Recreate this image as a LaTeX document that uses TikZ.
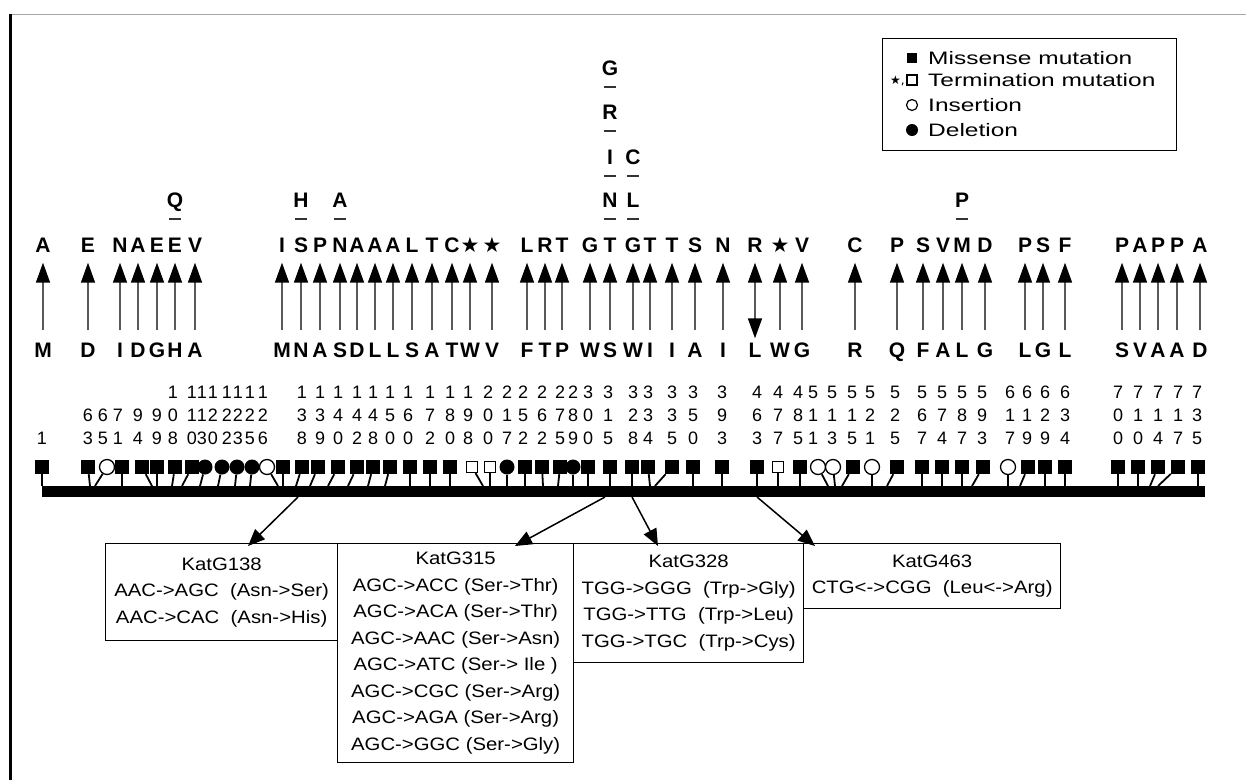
\documentclass[tikz,border=0pt]{standalone}
\usepackage{fontspec}
\setmainfont{Liberation Sans}
\newfontfamily\symfont{DejaVu Sans}
\newfontfamily\boxfont[FakeStretch=1.13]{Liberation Sans}
\newfontfamily\lgfont[FakeStretch=1.36]{Liberation Sans}
\usetikzlibrary{arrows.meta,positioning,shapes.geometric}
\newcommand{\stsym}{{\symfont\fontsize{21}{21}\selectfont ★}}

\tikzset{
  aalet/.style={inner sep=0pt, text height=15pt, text depth=0pt, font=\fontsize{21}{21}\bfseries\selectfont},
  numtxt/.style={inner sep=0pt, text height=13pt, text depth=0pt, font=\fontsize{18}{18}\selectfont},
  uparr/.style={draw=black!65, line width=1.6pt, -{Triangle[width=14pt,length=20pt,color=black]}, shorten >=10pt, shorten <=12pt},
  duparr/.style={draw=black!65, line width=1.6pt, {Triangle[width=14pt,length=20pt,color=black]}-{Triangle[width=14pt,length=20pt,color=black]}, shorten >=10pt, shorten <=4pt},
  ulbar/.style={line width=2pt, black!80},
  msq/.style={fill=black, minimum size=14pt, inner sep=0pt},
  tsq/.style={draw=black, line width=1.3pt, fill=white, minimum size=11pt, inner sep=0pt},
  ins/.style={circle, draw=black, line width=1.3pt, fill=white, minimum size=15pt, inner sep=0pt},
  del/.style={circle, fill=black, minimum size=15pt, inner sep=0pt},
  stem/.style={line width=1.8pt},
  katbox/.style={draw, line width=1.3pt, inner sep=0pt, align=center, anchor=north west, font=\boxfont\fontsize{18}{26.5}\selectfont},
  lgtext/.style={anchor=west, inner sep=0pt, font=\lgfont\fontsize{18}{18}\selectfont},
  boxarr/.style={line width=1.5pt, -{Triangle[width=14pt,length=17pt]}}
}

\begin{document}
\begin{tikzpicture}[x=1pt, y=-1pt]
  \useasboundingbox (0,0) rectangle (1246,780);
  % frame
  \draw[black!35, line width=0.8pt] (10,14) -- (1246,14);
  \draw[line width=3pt] (10,14) -- (10,780);

  % legend
  \node[draw, line width=1.2pt, minimum width=294pt, minimum height=112pt, inner sep=0pt, anchor=north west] (legend) at (882,38) {};
  \node[msq, minimum size=10pt] (lg1) at (912,58) {};
  \node[lgtext] (lt1) at (928,58) {Missense mutation};
  \node[inner sep=0pt, anchor=east] (lgs) at (905,81) {\symfont\fontsize{12}{12}\selectfont ★,};
  \node[tsq, minimum size=10pt, line width=1.2pt] (lg2) at (912,80) {};
  \node[lgtext] (lt2) at (928,80) {Termination mutation};
  \node[ins, minimum size=11pt, line width=1.2pt] (lg3) at (912,105) {};
  \node[lgtext] (lt3) at (928,105) {Insertion};
  \node[del, minimum size=12pt] (lg4) at (912,130) {};
  \node[lgtext] (lt4) at (928,130) {Deletion};

  % alternative substitutions stacked above a column
  \foreach \x/\y/\l [count=\i] in {610/68/G, 610/112/R, 610/157/I, 633/157/C, 610/200/N, 633/200/L,
      175/200/Q, 301/200/H, 340/200/A, 962/200/P} {
    \node[aalet] (a\i) at (\x,\y) {\l};
    \draw[ulbar] ([xshift=-6pt,yshift=-11pt]a\i.south) -- ([xshift=6pt,yshift=-11pt]a\i.south);
  }

  % mutant (top) and wild type (bottom) residues
  \foreach \x/\t/\b/\s [count=\i] in {43/A/M/uparr, 88/E/D/uparr, 120/N/I/uparr, 138/A/D/uparr, 157/E/G/uparr,
      175/E/H/uparr, 195/V/A/uparr, 282/I/M/uparr, 301/S/N/uparr, 320/P/A/uparr, 340/N/S/uparr,
      357/A/D/uparr, 375/A/L/uparr, 393/A/L/uparr, 412/L/S/uparr, 432/T/A/uparr, 452/C/T/uparr,
      470/\stsym/W/uparr, 492/\stsym/V/uparr, 527/L/F/uparr, 545/R/T/uparr, 562/T/P/uparr,
      590/G/W/uparr, 610/T/S/uparr, 633/G/W/uparr, 650/T/I/uparr, 672/T/I/uparr, 695/S/A/uparr,
      723/N/I/uparr, 755/R/L/duparr, 780/\stsym/W/uparr, 802/V/G/uparr, 855/C/R/uparr, 897/P/Q/uparr,
      923/S/F/uparr, 943/V/A/uparr, 962/M/L/uparr, 985/D/G/uparr, 1025/P/L/uparr, 1043/S/G/uparr,
      1065/F/L/uparr, 1122/P/S/uparr, 1140/A/V/uparr, 1158/P/A/uparr, 1177/P/A/uparr, 1200/A/D/uparr} {
    \node[aalet] (t\i) at (\x,245) {\t};
    \node[aalet] (b\i) at (\x,350) {\b};
    \draw[\s] (b\i) -- (t\i);
  }

  % codon numbers
  \foreach \x/\h/\t/\u [count=\i] in {42/{}/{}/1, 88/{}/6/3, 103/{}/6/5, 118/{}/7/1, 138/{}/9/4, 157/{}/9/9,
      173/1/0/8, 192/1/1/0, 202/1/1/3, 213/1/2/0, 227/1/2/2, 238/1/2/3, 250/1/2/5, 263/1/2/6,
      302/1/3/8, 320/1/3/9, 338/1/4/0, 357/1/4/2, 373/1/4/8, 390/1/5/0, 408/1/6/0, 430/1/7/2,
      450/1/8/0, 468/1/9/8, 488/2/0/0, 507/2/1/7, 523/2/5/2, 542/2/6/2, 560/2/7/5, 573/2/8/9,
      588/3/0/0, 608/3/1/5, 633/3/2/8, 648/3/3/4, 672/3/3/5, 693/3/5/0, 722/3/9/3, 757/4/6/3,
      778/4/7/7, 798/4/8/5, 813/5/1/1, 832/5/1/3, 852/5/1/5, 870/5/2/1, 895/5/2/5, 922/5/6/7,
      942/5/7/4, 962/5/8/7, 982/5/9/3, 1010/6/1/7, 1027/6/1/9, 1045/6/2/9, 1065/6/3/4,
      1118/7/0/0, 1138/7/1/0, 1158/7/1/4, 1178/7/1/7, 1197/7/3/5} {
    \node[numtxt] (nh\i) at (\x,392) {\h};
    \node[numtxt] (nt\i) at (\x,415) {\t};
    \node[numtxt] (nu\i) at (\x,438) {\u};
  }

  % gene bar
  \node[fill=black, minimum width=1163pt, minimum height=11pt, inner sep=0pt, anchor=north west] (bar) at (42,486) {};

  % mutation marks and their stems
  \foreach \x/\k/\b [count=\i] in {42/msq/42, 88/msq/90, 107/ins/95, 122/msq/122, 142/msq/152, 157/msq/157,
      175/msq/172, 192/msq/182, 205/del/200, 222/del/218, 237/del/235, 252/del/250, 267/ins/278,
      283/msq/283, 302/msq/296, 318/msq/310, 338/msq/328, 357/msq/348, 373/msq/368, 390/msq/385,
      410/msq/410, 430/msq/430, 450/msq/450, 472/tsq/483, 490/tsq/490, 507/del/507, 525/msq/525,
      542/msq/543, 560/msq/558, 573/del/573, 588/msq/588, 610/msq/610, 632/msq/632, 648/msq/650,
      672/msq/655, 693/msq/693, 722/msq/722, 757/msq/757, 778/tsq/778, 800/msq/800, 818/ins/828,
      833/ins/835, 853/msq/842, 872/ins/872, 897/msq/887, 922/msq/922, 942/msq/942, 962/msq/962,
      983/msq/972, 1008/ins/1008, 1028/msq/1020, 1045/msq/1045, 1065/msq/1065, 1118/msq/1118,
      1138/msq/1138, 1158/msq/1150, 1178/msq/1158, 1198/msq/1198} {
    \coordinate (s\i) at (\b,486);
    \node[\k] (m\i) at (\x,467) {};
    \draw[stem] (m\i) -- (s\i);
  }

  % codon change boxes
  \node[katbox, minimum width=232pt, minimum height=97pt] (k138) at (105,543)
    {KatG138\\AAC->AGC\ \ (Asn->Ser)\\AAC->CAC\ \ (Asn->His)};
  \node[katbox, minimum width=236pt, minimum height=219pt] (k315) at (337,543)
    {KatG315\\AGC->ACC (Ser->Thr)\\AGC->ACA (Ser->Thr)\\AGC->AAC (Ser->Asn)\\AGC->ATC (Ser-> Ile )\\AGC->CGC (Ser->Arg)\\AGC->AGA (Ser->Arg)\\AGC->GGC (Ser->Gly)};
  \node[katbox, minimum width=230pt, minimum height=119pt] (k328) at (573,543)
    {KatG328\\TGG->GGG\ \ (Trp->Gly)\\TGG->TTG\ \ (Trp->Leu)\\TGG->TGC\ \ (Trp->Cys)};
  \node[katbox, minimum width=257pt, minimum height=65pt] (k463) at (803,543)
    {KatG463\\CTG<->CGG\ \ (Leu<->Arg)};

  % arrows from the bar to the boxes
  \coordinate (f138) at (298,497); \coordinate (e138) at (248,546);
  \coordinate (f315) at (605,497); \coordinate (e315) at (515,546);
  \coordinate (f328) at (632,497); \coordinate (e328) at (658,546);
  \coordinate (f463) at (757,497); \coordinate (e463) at (815,546);
  \foreach \n in {138,315,328,463} {
    \draw[boxarr] (f\n) -- (e\n);
  }
\end{tikzpicture}
\end{document}
